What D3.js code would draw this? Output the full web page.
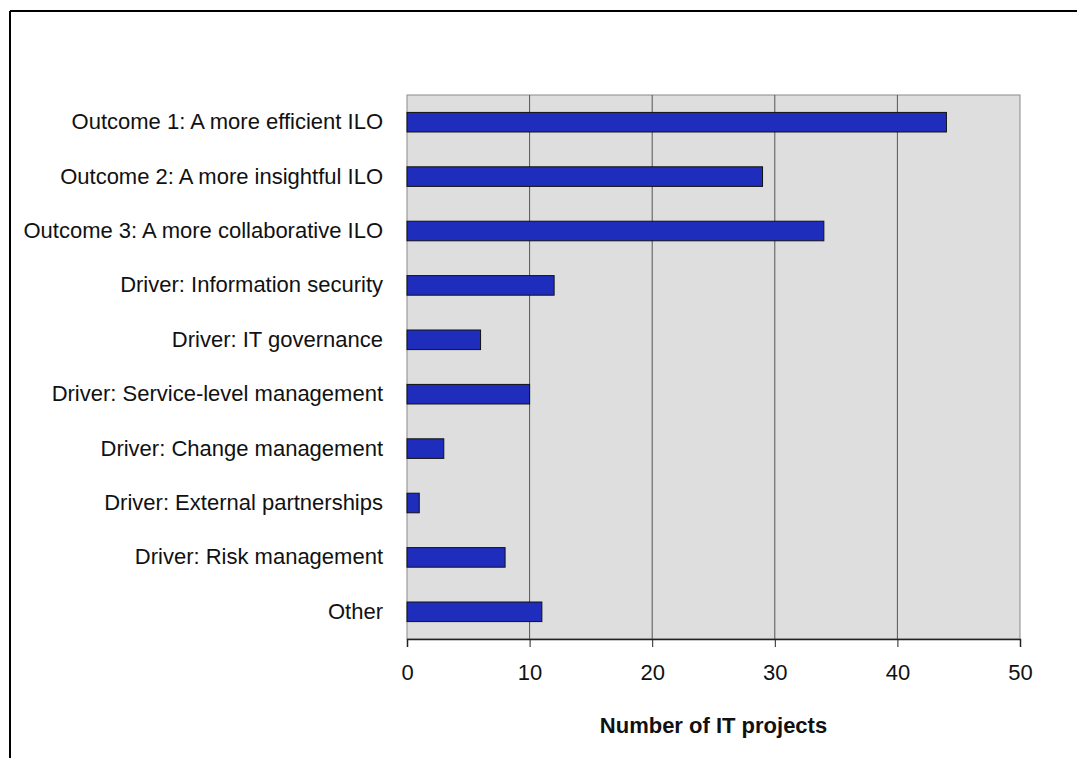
<!DOCTYPE html>
<html>
<head>
<meta charset="utf-8">
<script src="https://cdn.jsdelivr.net/npm/d3@7"></script>
<style>
  body { margin: 0; background: #fff; }
  svg text { font-family: "Liberation Sans", Arial, sans-serif; }
</style>
</head>
<body>
<div id="chart"></div>
<script>
const categories = [
  "Outcome 1: A more efficient ILO",
  "Outcome 2: A more insightful ILO",
  "Outcome 3: A more collaborative ILO",
  "Driver: Information security",
  "Driver: IT governance",
  "Driver: Service-level management",
  "Driver: Change management",
  "Driver: External partnerships",
  "Driver: Risk management",
  "Other"
];
const projects = [44, 29, 34, 12, 6, 10, 3, 1, 8, 11];
const xTicks = [0, 10, 20, 30, 40, 50];
const xTitle = "Number of IT projects";

const data = categories.map((c, i) => ({ name: c, value: projects[i] }));

const W = 1077, H = 758;
const margin = { top: 95, right: 57, bottom: 119, left: 407 },
  width = W - margin.left - margin.right,
  height = H - margin.top - margin.bottom;

const root = d3.select("#chart").append("svg")
  .attr("width", W).attr("height", H);

// outer frame (only top and left edges show)
root.append("line").attr("x1", 10).attr("x2", W).attr("y1", 11).attr("y2", 11)
  .attr("stroke", "#000").attr("stroke-width", 2);
root.append("line").attr("x1", 10).attr("x2", 10).attr("y1", 11).attr("y2", H)
  .attr("stroke", "#000").attr("stroke-width", 2);

const svg = root.append("g").attr("transform", `translate(${margin.left},${margin.top})`);

const x = d3.scaleLinear().domain([0, 50]).range([0, width]);
const y = d3.scaleBand().domain(categories).range([0, height])
  .paddingInner(0.64).paddingOuter(0.32);

// plot background
svg.append("rect").attr("width", width).attr("height", height)
  .attr("fill", "#dedede").attr("stroke", "#8a8a8a").attr("stroke-width", 1);

// vertical gridlines
svg.append("g").selectAll("line")
  .data(xTicks.filter(t => t > 0 && t < 50))
  .join("line")
  .attr("x1", d => x(d)).attr("x2", d => x(d))
  .attr("y1", 0).attr("y2", height)
  .attr("stroke", "#555").attr("stroke-width", 1);

// bars
svg.selectAll(".bar").data(data).join("rect")
  .attr("class", "bar")
  .attr("x", x(0))
  .attr("y", d => y(d.name))
  .attr("width", d => x(d.value) - x(0))
  .attr("height", y.bandwidth())
  .attr("fill", "#1f2dbd")
  .attr("stroke", "#111")
  .attr("stroke-width", 1);

// X axis
const xAxisGroup = svg.append("g")
  .attr("transform", `translate(0,${height})`)
  .call(d3.axisBottom(x).tickValues(xTicks).tickSize(8).tickPadding(17).tickFormat(d3.format("d")));
xAxisGroup.select(".domain").attr("stroke", "#222").attr("stroke-width", 1.5);
xAxisGroup.selectAll(".tick line").attr("stroke", "#222");
xAxisGroup.selectAll("text")
  .style("font-size", "22px")
  .attr("fill", "#111");

// Y axis (labels only)
const yAxisGroup = svg.append("g")
  .call(d3.axisLeft(y).tickSize(0).tickPadding(24));
yAxisGroup.select(".domain").remove();
yAxisGroup.selectAll("text")
  .style("font-size", "22px")
  .attr("fill", "#111");

// axis title
svg.append("text")
  .attr("x", width / 2)
  .attr("y", 733 - margin.top)
  .attr("text-anchor", "middle")
  .style("font-size", "22px")
  .style("font-weight", "bold")
  .attr("fill", "#111")
  .text(xTitle);
</script>
</body>
</html>
